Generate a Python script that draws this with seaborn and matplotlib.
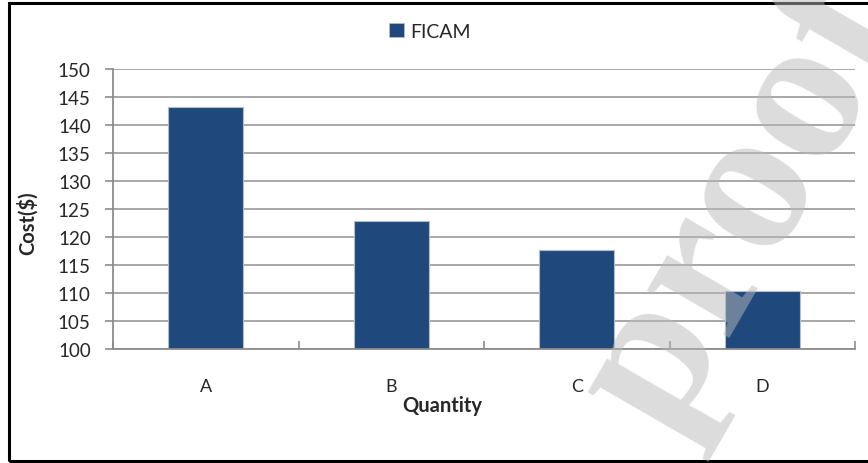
import matplotlib
matplotlib.use("Agg")
import matplotlib.pyplot as plt
import matplotlib.patches as mpatches
import seaborn as sns
import pandas as pd

# Chart data
quantities = ["A", "B", "C", "D"]
costs = [143.2, 122.9, 117.7, 110.4]
series_name = "FICAM"
y_ticks = [100, 105, 110, 115, 120, 125, 130, 135, 140, 145, 150]

df = pd.DataFrame({"Quantity": quantities, "Cost": costs})

sns.set_theme(style="white")
plt.rcParams["font.family"] = ["Lato", "DejaVu Sans"]

W, H = 868, 464
fig = plt.figure(figsize=(W / 100, H / 100), dpi=100)
ax = fig.add_axes([113 / W, 1 - 350 / H, (855 - 113) / W, (350 - 70) / H])

bar_color = "#1F497D"
sns.barplot(data=df, x="Quantity", y="Cost", order=quantities, color=bar_color,
            width=0.405, edgecolor="#b4bccb", linewidth=0.8, saturation=1,
            label=series_name, ax=ax)

ax.set_ylim(100, 150)
ax.set_xlim(-0.5, len(quantities) - 0.5)
ax.set_yticks(y_ticks)
ax.set_yticklabels([str(v) for v in y_ticks], fontsize=13.5)
ax.tick_params(axis="y", length=6, width=1.2, color="#8c8c8c", pad=10, left=True)
ax.tick_params(axis="x", which="major", length=0, labelsize=13, pad=21)
ax.set_xticks([i - 0.5 for i in range(len(quantities) + 1)], minor=True)
ax.tick_params(axis="x", which="minor", length=6, width=1.2, color="#8c8c8c",
               bottom=True, direction="in")

ax.yaxis.grid(True, color="#a0a0a0", linewidth=1.3)
ax.set_axisbelow(True)
for side in ["top", "right"]:
    ax.spines[side].set_visible(False)
for side in ["left", "bottom"]:
    ax.spines[side].set_color("#8c8c8c")
    ax.spines[side].set_linewidth(1.3)

ax.set_xlabel("Quantity", fontsize=14.5, fontweight="bold")
ax.xaxis.set_label_coords((442 - 113) / (855 - 113), -(396 - 350) / (350 - 70))
ax.set_ylabel("Cost($)", fontsize=14.5, fontweight="bold")
ax.yaxis.set_label_coords(-(113 - 38) / (855 - 113), (350 - 223) / (350 - 70))

if ax.get_legend() is not None:
    ax.get_legend().remove()
handle = mpatches.Patch(facecolor=bar_color, edgecolor="#b4bccb", linewidth=0.6)
fig.legend([handle], [series_name], loc="center", bbox_to_anchor=(430 / W, 1 - 32 / H),
           frameon=False, fontsize=14, handlelength=0.75, handleheight=0.75,
           handletextpad=0.35, borderaxespad=0)

# outer frame (left, top, bottom visible)
frame = mpatches.Rectangle((9 / W, 1 - 462 / H), (900 - 9) / W, (462 - 4) / H,
                           transform=fig.transFigure, fill=False,
                           edgecolor="black", linewidth=2.2)
fig.add_artist(frame)

# watermark
fig.text(745 / W, 1 - 206 / H, "proof", family=["Liberation Serif", "DejaVu Serif"],
         fontsize=150, fontweight="bold", color="#bababa", alpha=0.5, rotation=60,
         rotation_mode="anchor", ha="center", va="center", zorder=10)

fig.savefig("out.png", dpi=100)
